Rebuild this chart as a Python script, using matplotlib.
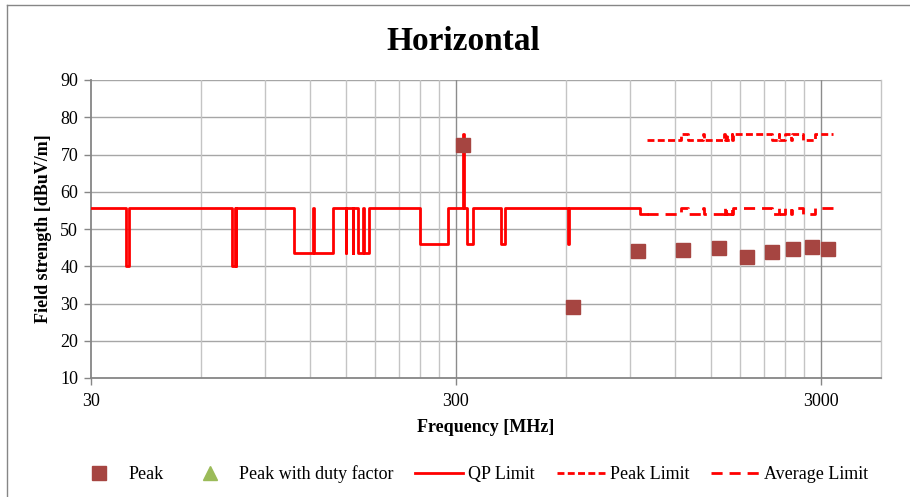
import matplotlib
matplotlib.use('Agg')
import matplotlib.pyplot as plt
from matplotlib.lines import Line2D
from matplotlib.ticker import FixedLocator, NullFormatter

plt.rcParams['font.family'] = ['Liberation Serif', 'DejaVu Serif']

# ---------------- data ----------------
peak_freq = [315, 630, 945, 1260, 1575, 1890, 2205, 2520, 2835, 3150]
peak_level = [72.6, 29.0, 44.2, 44.4, 45.0, 42.6, 43.9, 44.7, 45.1, 44.5]

duty_freq = []
duty_level = []

qp_freq = [30, 37.5, 38.25, 73, 74.6, 74.8, 75.2, 108, 121.94, 123, 138,
           149.9, 150.05, 156.52475, 156.52525, 156.7, 156.9, 162.0125,
           167.17, 167.72, 173.2, 240, 285, 314.8, 315.2, 322, 335.4,
           399.9, 410, 608, 614, 960, 1000]
qp_level = [55.6, 40, 55.6, 40, 55.6, 40, 55.6, 43.5, 55.6, 43.5, 55.6,
            43.5, 55.6, 43.5, 55.6, 43.5, 55.6, 43.5,
            55.6, 43.5, 55.6, 46, 55.6, 75.6, 55.6, 46, 55.6,
            46, 55.6, 46, 55.6, 54, 54]

lim_freq = [1000, 1240, 1300, 1427, 1435, 1626.5, 1645.5, 1646.5, 1660,
            1710, 1718.8, 1722.2, 2200, 2300, 2310, 2390, 2483.5, 2500,
            2690, 2900, 3250]
avg_level = [54, 55.6, 54, 55.6, 54, 55.6, 54, 55.6, 54,
             55.6, 54, 55.6, 54, 55.6, 54, 55.6, 54, 55.6,
             54, 55.6, 55.6]
pk_lim_level = [74, 75.6, 74, 75.6, 74, 75.6, 74, 75.6, 74,
                75.6, 74, 75.6, 74, 75.6, 74, 75.6, 74, 75.6,
                74, 75.6, 75.6]

x_major = [30, 300, 3000]
x_major_labels = ['30', '300', '3000']
x_minor = [60, 90, 120, 150, 180, 210, 240, 270,
           600, 900, 1200, 1500, 1800, 2100, 2400, 2700]
y_ticks = [10, 20, 30, 40, 50, 60, 70, 80, 90]

# ---------------- figure ----------------
W, H = 910, 497
fig = plt.figure(figsize=(W / 100, H / 100), dpi=100)
ax = fig.add_axes([90.7 / W, 1 - 378 / H, (881.4 - 90.7) / W, (378 - 80) / H])

red = '#FF0000'
sq_color = '#A64541'
lw = 2.0

ax.plot(qp_freq, qp_level, drawstyle='steps-post', color=red, lw=lw,
        zorder=3, label='QP Limit')
ax.plot(lim_freq, pk_lim_level, drawstyle='steps-post', color=red, lw=lw,
        linestyle=(0, (2.5, 1.2)), zorder=3, label='Peak Limit')
ax.plot(lim_freq, avg_level, drawstyle='steps-post', color=red, lw=lw,
        linestyle=(0, (4, 2.5)), zorder=3, label='Average Limit')
ax.plot(peak_freq, peak_level, linestyle='none', marker='s', ms=10,
        color=sq_color, mec=sq_color, zorder=4, label='Peak')
ax.plot(duty_freq, duty_level, linestyle='none', marker='^', ms=10,
        color='#9BBB59', zorder=4, label='Peak with duty factor')

ax.set_xscale('log')
ax.set_xlim(30, 4400)
ax.set_ylim(10, 90)

ax.xaxis.set_major_locator(FixedLocator(x_major))
ax.set_xticklabels(x_major_labels)
ax.xaxis.set_minor_locator(FixedLocator(x_minor))
ax.xaxis.set_minor_formatter(NullFormatter())
ax.set_yticks(y_ticks)

ax.tick_params(axis='both', which='major', labelsize=13, colors='#000000',
               length=5, width=1, color='#868686', direction='out')
ax.tick_params(axis='x', which='minor', length=0)
ax.tick_params(axis='x', pad=6)
ax.tick_params(axis='y', pad=4)

# grid
ax.grid(False)
for y in y_ticks[1:]:
    ax.axhline(y, color='#A6A6A6', lw=1, zorder=1)
for x in x_minor:
    ax.axvline(x, color='#C4C4C4', lw=1, zorder=1)
for x in x_major[1:]:
    ax.axvline(x, color='#8C8C8C', lw=1, zorder=1)

ax.spines['top'].set_visible(False)
ax.spines['right'].set_color('#C4C4C4')
ax.spines['right'].set_linewidth(1)
for s in ['left', 'bottom']:
    ax.spines[s].set_color('#868686')
    ax.spines[s].set_linewidth(1.3)

ax.set_xlabel('Frequency [MHz]', fontsize=13, fontweight='bold', labelpad=6)
ax.set_ylabel('Field strength [dBuV/m]', fontsize=13, fontweight='bold',
              labelpad=6)

fig.text(463 / W, 1 - 41 / H, 'Horizontal', fontsize=24, fontweight='bold',
         ha='center', va='center')

# legend
handles, labels = ax.get_legend_handles_labels()
order = ['Peak', 'Peak with duty factor', 'QP Limit', 'Peak Limit', 'Average Limit']
hmap = dict(zip(labels, handles))
fig.legend([hmap[k] for k in order], order, loc='center',
           bbox_to_anchor=(472 / W, 1 - 474 / H), ncol=5, frameon=False,
           fontsize=13, handlelength=2.65, handletextpad=0.3,
           columnspacing=1.2, borderaxespad=0)

# chart border
fig.add_artist(Line2D([7 / W, 7 / W], [0, 1 - 5 / H], transform=fig.transFigure,
                      color='#868686', lw=1))
fig.add_artist(Line2D([7 / W, 1], [1 - 5 / H, 1 - 5 / H], transform=fig.transFigure,
                      color='#868686', lw=1))

fig.savefig('out.png', dpi=100)
